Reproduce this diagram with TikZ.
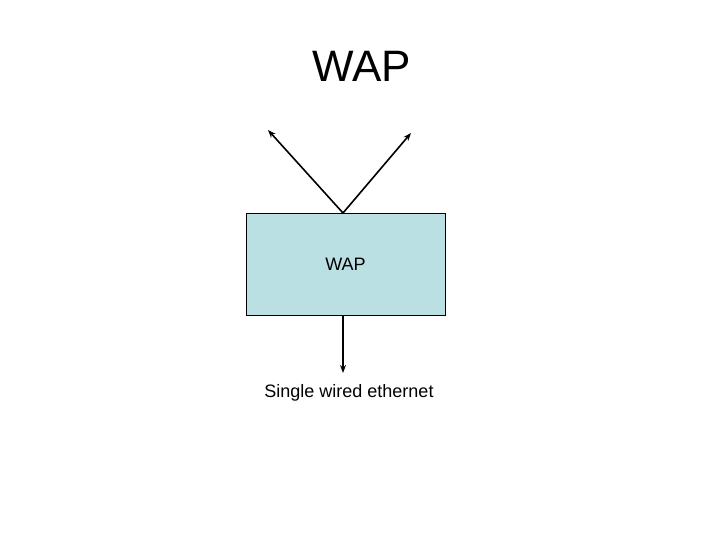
\documentclass[tikz,border=0pt]{standalone}
\usepackage{fontspec}
\setmainfont{Liberation Sans}
\usetikzlibrary{arrows.meta}
\definecolor{boxfill}{RGB}{187,224,227}
\tikzset{
  conn/.style={line width=1.6pt,-{Stealth[length=8pt,width=6pt]}},
  wapbox/.style={draw=black,line width=0.8pt,fill=boxfill,minimum width=199pt,minimum height=102pt,inner sep=0pt,font=\fontsize{18}{21}\selectfont},
  lbl/.style={font=\fontsize{18}{21}\selectfont,inner sep=0pt}
}
\begin{document}
\begin{tikzpicture}[x=1pt,y=-1pt]
\useasboundingbox (0,0) rectangle (720,540);
\node[font=\fontsize{44}{50}\selectfont,inner sep=0pt] (title) at (362,66) {WAP};
\node[wapbox] (wap) at (345.5,264) {\raisebox{-1pt}{WAP}};
\coordinate (top) at (343,213);
\coordinate (l) at (268,130);
\coordinate (r) at (411,133);
\draw[conn] (top) -- (l);
\draw[conn] (top) -- (r);
\node[lbl] (eth) at (349,393) {\raisebox{-1.5pt}{Single wired ethernet}};
\draw[conn] (wap.south -| top) -- (343,373);
\end{tikzpicture}
\end{document}
